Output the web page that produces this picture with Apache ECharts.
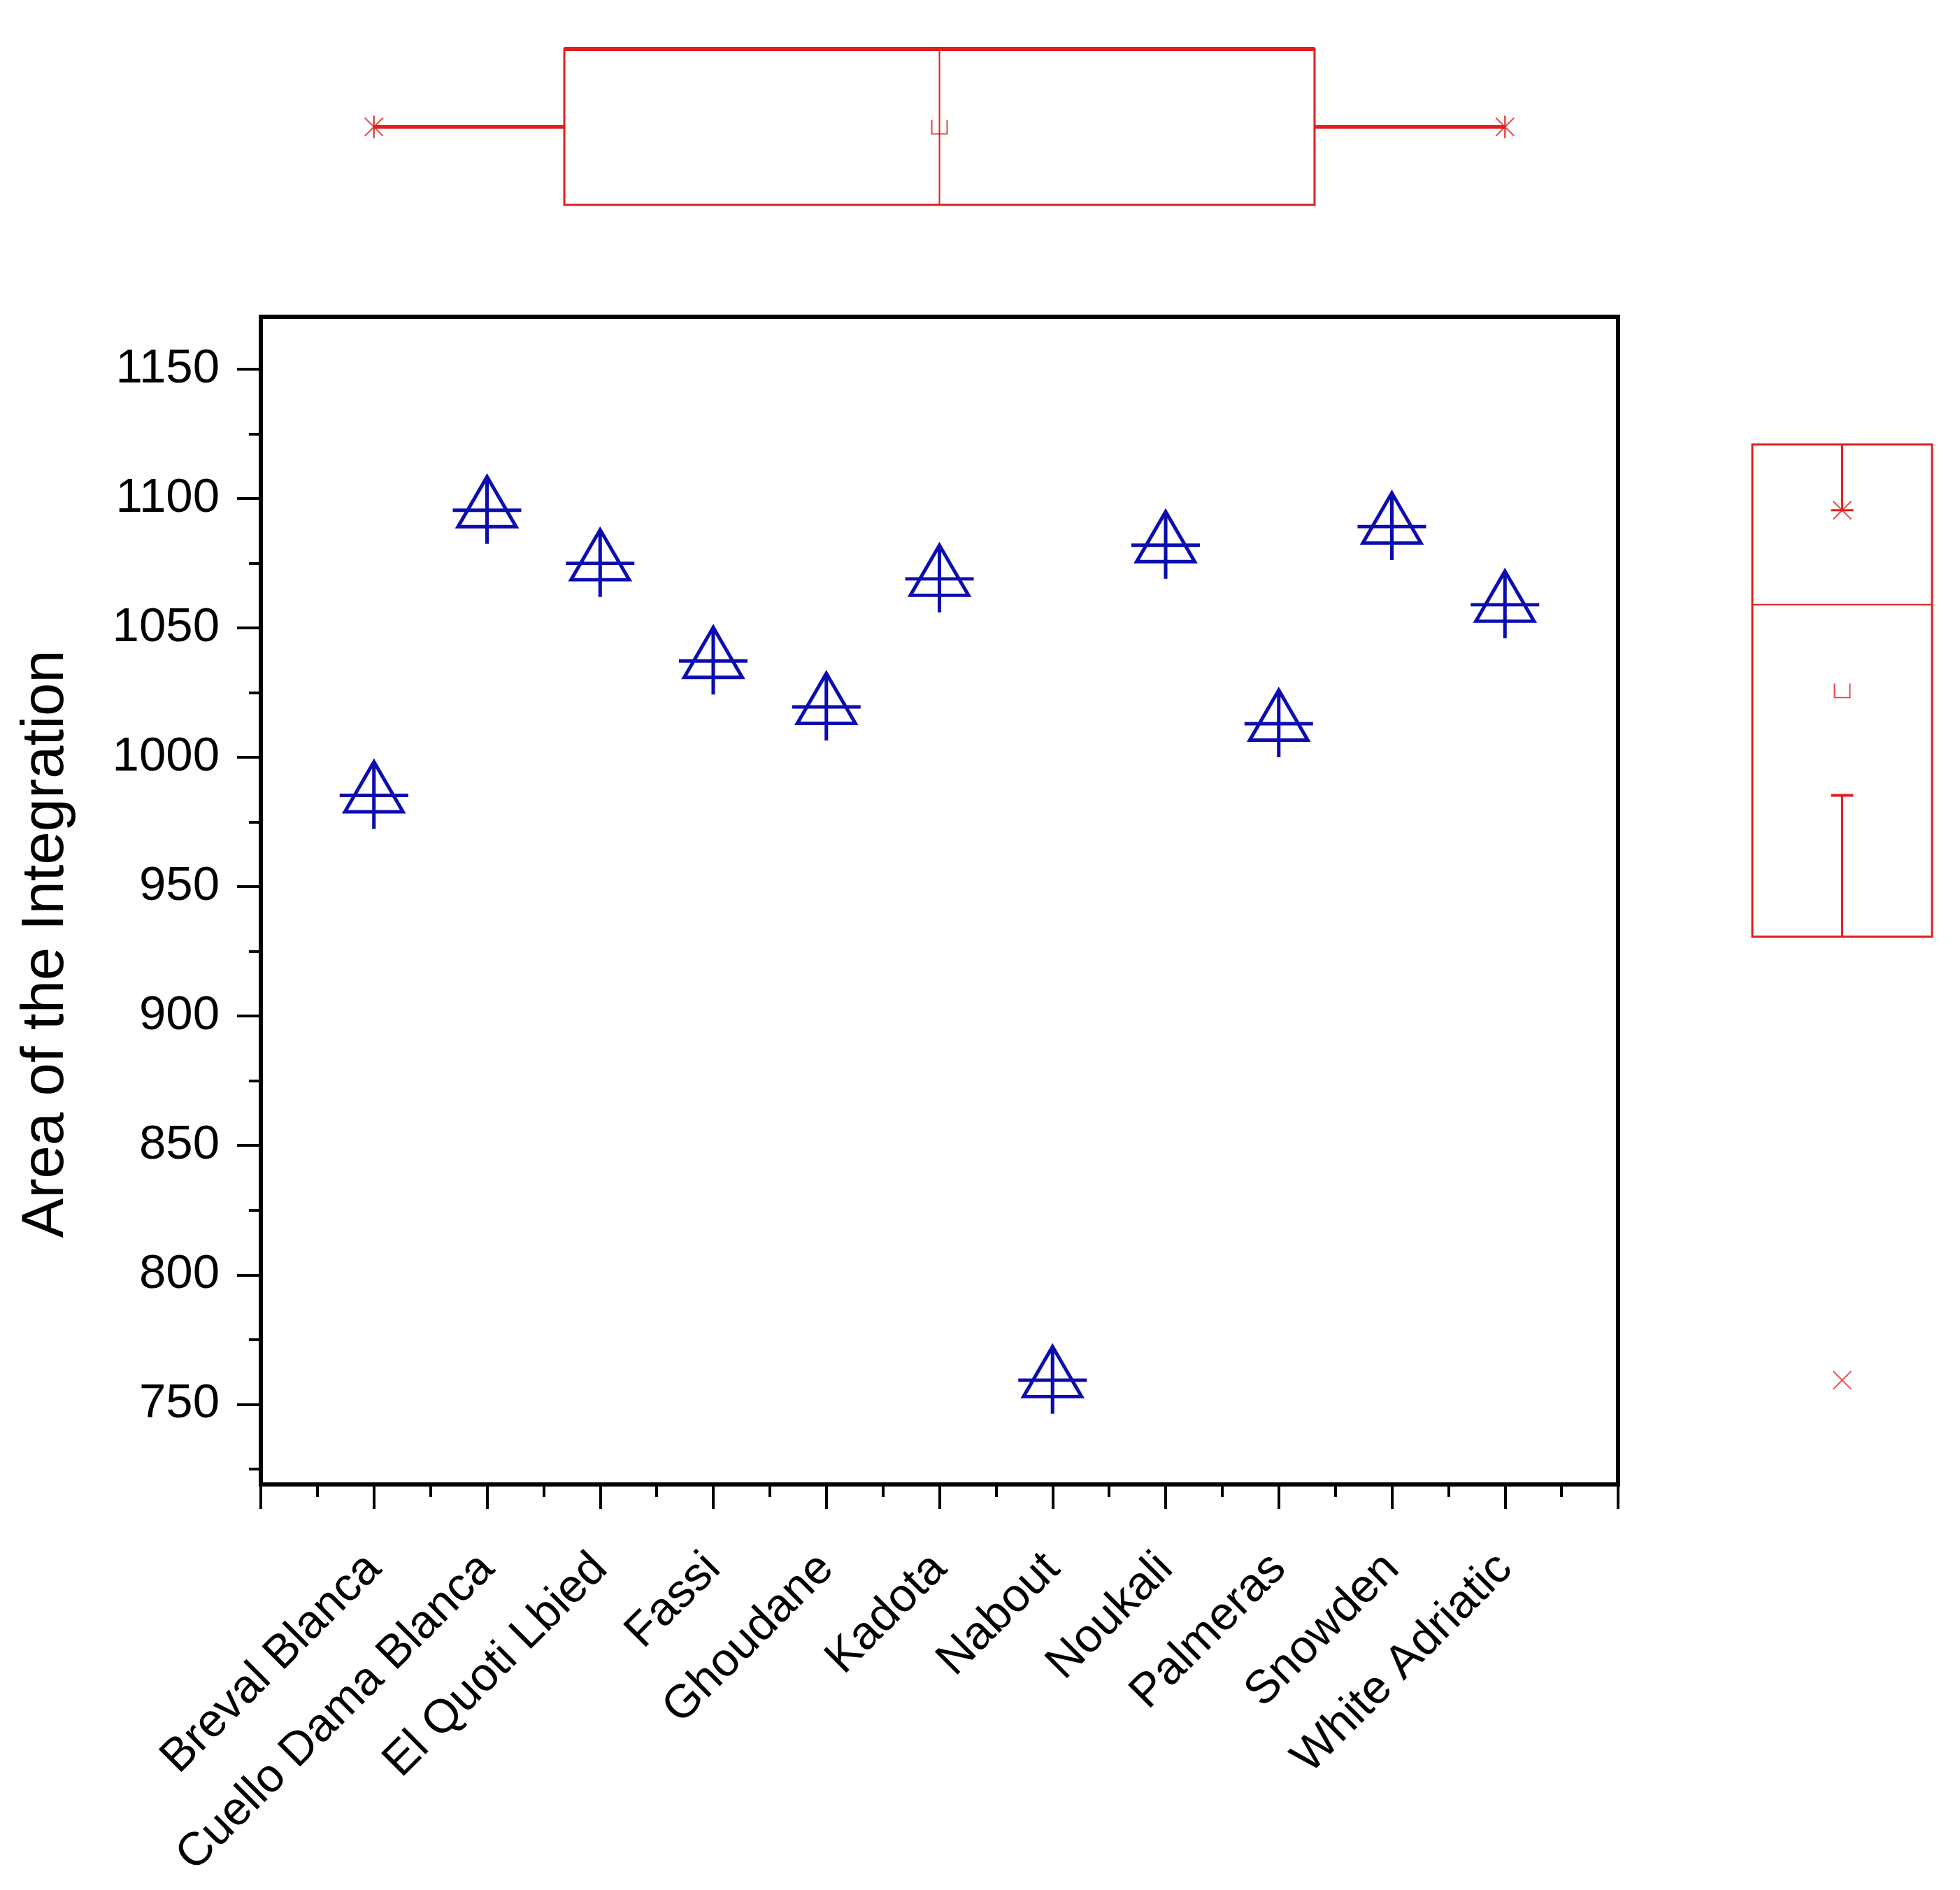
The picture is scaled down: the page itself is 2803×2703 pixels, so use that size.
<!DOCTYPE html>
<html>
<head>
<meta charset="utf-8">
<script src="https://cdn.jsdelivr.net/npm/echarts@6/dist/echarts.min.js"></script>
<style>
  html, body { margin: 0; padding: 0; background: #fff; }
  #chart { width: 2803px; height: 2703px; }
</style>
</head>
<body>
<div id="chart"></div>
<script>
// varieties on the x axis, in plot order
const categories = ['Breval Blanca', 'Cuello Dama Blanca', 'El Quoti Lbied', 'Fassi', 'Ghoudane',
  'Kadota', 'Nabout', 'Noukali', 'Palmeras', 'Snowden', 'White Adriatic']
// area of the integration
const areas = [985.3, 1095.5, 1075.0, 1037.3, 1019.5, 1069.0, 759.3, 1082.0, 1013.0, 1089.2, 1059.0]
// y ticks
const yLabels = [750, 800, 850, 900, 950, 1000, 1050, 1100, 1150]
const yMinor = [725, 775, 825, 875, 925, 975, 1025, 1075, 1125]

const FONT = '"Liberation Sans", Arial, sans-serif'
const BLUE = '#0c0cb0'
const RED = '#e01e1e'
const Y_MIN = 719
const Y_MAX = 1170.3

// box stats like Origin: box = mean +- SD, whiskers = 1.5 IQR, x marks at min/max
function boxStats(arr) {
  const s = arr.slice().sort((a, b) => a - b)
  const n = s.length
  const mean = s.reduce((a, b) => a + b, 0) / n
  const sd = Math.sqrt(s.reduce((a, b) => a + (b - mean) * (b - mean), 0) / (n - 1))
  const q = (p) => {
    const pos = p * (n + 1) - 1
    const lo = Math.max(0, Math.min(n - 1, Math.floor(pos)))
    const hi = Math.min(n - 1, lo + 1)
    return s[lo] + (s[hi] - s[lo]) * (pos - Math.floor(pos))
  }
  const q1 = q(0.25), q3 = q(0.75), med = q(0.5)
  const iqr = q3 - q1
  const wLow = s.find((v) => v >= q1 - 1.5 * iqr)
  const wHigh = s.slice().reverse().find((v) => v <= q3 + 1.5 * iqr)
  return { box: [wLow, mean - sd, med, mean + sd, wHigh], mean, min: s[0], max: s[n - 1] }
}

const xStats = boxStats(categories.map((c, i) => i + 1))
const yStats = boxStats(areas)

const boxRender = (horizontal) => (params, api) => {
  const cs = params.coordSys
  const v = [0, 1, 2, 3, 4].map((i) => api.value(i))
  const st = { stroke: RED, lineWidth: 3, fill: null }
  const cap = 16
  if (horizontal) {
    const p = (val) => api.coord([val, 0.5])[0]
    const cy = cs.y + cs.height / 2
    return {
      type: 'group',
      children: [
        { type: 'rect', shape: { x: p(v[1]), y: cs.y, width: p(v[3]) - p(v[1]), height: cs.height }, style: st },
        { type: 'line', shape: { x1: p(v[1]), y1: cs.y, x2: p(v[3]), y2: cs.y }, style: { stroke: RED, lineWidth: 6 } },
        { type: 'line', shape: { x1: p(v[2]), y1: cs.y, x2: p(v[2]), y2: cs.y + cs.height }, style: { stroke: RED, lineWidth: 2 } },
        { type: 'line', shape: { x1: p(v[0]), y1: cy, x2: p(v[1]), y2: cy }, style: { stroke: RED, lineWidth: 5 } },
        { type: 'line', shape: { x1: p(v[3]), y1: cy, x2: p(v[4]), y2: cy }, style: { stroke: RED, lineWidth: 5 } },
        { type: 'line', shape: { x1: p(v[0]), y1: cy - cap, x2: p(v[0]), y2: cy + cap }, style: { stroke: RED, lineWidth: 2 } },
        { type: 'line', shape: { x1: p(v[4]), y1: cy - cap, x2: p(v[4]), y2: cy + cap }, style: { stroke: RED, lineWidth: 2 } }
      ]
    }
  }
  const p = (val) => api.coord([0.5, val])[1]
  const cx = cs.x + cs.width / 2
  return {
    type: 'group',
    children: [
      { type: 'rect', shape: { x: cs.x, y: p(v[3]), width: cs.width, height: p(v[1]) - p(v[3]) }, style: st },
      { type: 'line', shape: { x1: cs.x, y1: p(v[2]), x2: cs.x + cs.width, y2: p(v[2]) }, style: { stroke: RED, lineWidth: 2 } },
      { type: 'line', shape: { x1: cx, y1: p(v[0]), x2: cx, y2: p(v[1]) }, style: { stroke: RED, lineWidth: 3 } },
      { type: 'line', shape: { x1: cx, y1: p(v[3]), x2: cx, y2: p(v[4]) }, style: { stroke: RED, lineWidth: 3 } },
      { type: 'line', shape: { x1: cx - cap, y1: p(v[0]), x2: cx + cap, y2: p(v[0]) }, style: { stroke: RED, lineWidth: 4 } },
      { type: 'line', shape: { x1: cx - cap, y1: p(v[4]), x2: cx + cap, y2: p(v[4]) }, style: { stroke: RED, lineWidth: 3 } }
    ]
  }
}

const crossSymbol = 'path://M0,0L26,26M26,0L0,26'
const meanSymbol = 'path://M0,0L0,20L22,20L22,0'
// triangle with a cross through it, centred on the cross
const triSymbol = 'path://M49,0L49,96M0,48L98,48M49,0L90.5,71.5L7.5,71.5Z'

const myChart = echarts.init(document.getElementById('chart'))
myChart.setOption({
  animation: false,
  backgroundColor: '#fff',
  grid: [
    { left: 373, right: 489, top: 453, bottom: 580, show: true, borderColor: '#000', borderWidth: 6, backgroundColor: 'transparent' },
    { left: 373, right: 489, top: 70, height: 223 },
    { left: 2506, width: 257, top: 453, bottom: 580 }
  ],
  xAxis: [
    {
      gridIndex: 0, type: 'value', min: 0, max: 12, interval: 1,
      axisLine: { lineStyle: { color: '#000', width: 6 } },
      axisTick: { length: 35, lineStyle: { color: '#000', width: 4 } },
      minorTick: { show: true, splitNumber: 2, length: 18, lineStyle: { color: '#000', width: 4 } },
      splitLine: { show: false },
      axisLabel: {
        rotate: 45, verticalAlign: 'middle', margin: 110, color: '#000', fontSize: 67, fontFamily: FONT,
        formatter: (val) => categories[val - 1] || ''
      }
    },
    { gridIndex: 1, type: 'value', min: 0, max: 12, show: false },
    { gridIndex: 2, type: 'value', min: 0, max: 1, show: false }
  ],
  yAxis: [
    {
      gridIndex: 0, type: 'value', min: Y_MIN, max: Y_MAX,
      axisLine: { show: true, lineStyle: { color: '#000', width: 6 } },
      axisTick: { show: true, length: 34, customValues: yLabels, lineStyle: { color: '#000', width: 4 } },
      axisLabel: {
        customValues: yLabels, margin: 59, color: '#000', fontSize: 69, fontFamily: FONT,
        formatter: (val) => String(val)
      },
      splitLine: { show: false }
    },
    {
      gridIndex: 0, type: 'value', min: Y_MIN, max: Y_MAX, position: 'left',
      axisLine: { show: false },
      axisTick: { show: true, length: 17, customValues: yMinor, lineStyle: { color: '#000', width: 4 } },
      axisLabel: { show: false },
      splitLine: { show: false }
    },
    { gridIndex: 1, type: 'value', min: 0, max: 1, show: false },
    { gridIndex: 2, type: 'value', min: Y_MIN, max: Y_MAX, show: false }
  ],
  graphic: [
    {
      type: 'text', x: 67, y: 1350, rotation: Math.PI / 2,
      style: { text: 'Area of the Integration', font: '85px ' + FONT, fill: '#000', align: 'center', verticalAlign: 'middle' }
    }
  ],
  series: [
    {
      type: 'scatter', xAxisIndex: 0, yAxisIndex: 0,
      data: categories.map((c, i) => [i + 1, areas[i]]),
      symbol: triSymbol, symbolSize: [98, 96],
      itemStyle: { color: 'rgba(0,0,0,0)', borderColor: BLUE, borderWidth: 5, opacity: 1 }
    },
    {
      type: 'custom', xAxisIndex: 1, yAxisIndex: 2, clip: false,
      renderItem: boxRender(true),
      encode: { x: [0, 1, 2, 3, 4] },
      data: [xStats.box]
    },
    {
      type: 'custom', xAxisIndex: 2, yAxisIndex: 3, clip: false,
      renderItem: boxRender(false),
      encode: { y: [0, 1, 2, 3, 4] },
      data: [yStats.box]
    },
    {
      type: 'scatter', xAxisIndex: 1, yAxisIndex: 2,
      data: [[xStats.min, 0.5], [xStats.max, 0.5]],
      symbol: crossSymbol, symbolSize: 26,
      itemStyle: { color: 'rgba(0,0,0,0)', borderColor: RED, borderWidth: 2 }
    },
    {
      type: 'scatter', xAxisIndex: 1, yAxisIndex: 2,
      data: [[xStats.mean, 0.5]],
      symbol: meanSymbol, symbolSize: [22, 20],
      itemStyle: { color: 'rgba(0,0,0,0)', borderColor: RED, borderWidth: 2 }
    },
    {
      type: 'scatter', xAxisIndex: 2, yAxisIndex: 3,
      data: [[0.5, yStats.min], [0.5, yStats.max]],
      symbol: crossSymbol, symbolSize: 26,
      itemStyle: { color: 'rgba(0,0,0,0)', borderColor: RED, borderWidth: 2 }
    },
    {
      type: 'scatter', xAxisIndex: 2, yAxisIndex: 3,
      data: [[0.5, yStats.mean]],
      symbol: meanSymbol, symbolSize: [22, 20],
      itemStyle: { color: 'rgba(0,0,0,0)', borderColor: RED, borderWidth: 2 }
    }
  ]
})
</script>
</body>
</html>
